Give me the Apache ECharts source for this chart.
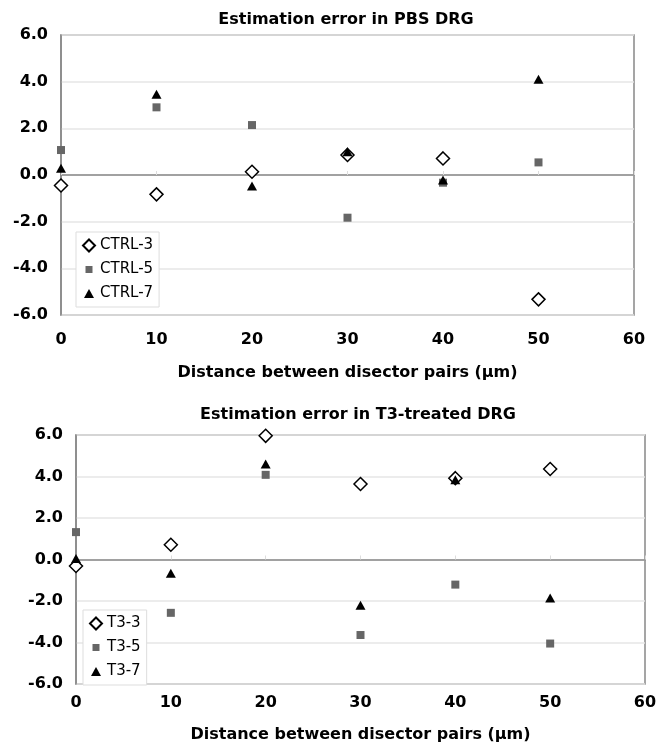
<!DOCTYPE html>
<html>
<head>
<meta charset="utf-8">
<script src="https://cdn.jsdelivr.net/npm/echarts@6/dist/echarts.min.js"></script>
<style>
  html, body { margin: 0; padding: 0; background: #fff; }
  #chart { width: 665px; height: 744px; }
</style>
</head>
<body>
<div id="chart"></div>
<script>
// ---- data ----
var distances = [0, 10, 20, 30, 40, 50];   // µm

var ctrl3 = [-0.45, -0.83, 0.14, 0.86, 0.71, -5.33];
var ctrl5 = [1.07, 2.90, 2.14, -1.83, -0.33, 0.54];
var ctrl7 = [0.29, 3.46, -0.47, 1.00, -0.21, 4.10];

var t3_3 = [-0.31, 0.71, 5.96, 3.64, 3.92, 4.36];
var t3_5 = [1.32, -2.57, 4.08, -3.64, -1.21, -4.05];
var t3_7 = [0.05, -0.66, 4.60, -2.20, 3.84, -1.85];

var topTitle = "Estimation error in PBS DRG";
var bottomTitle = "Estimation error in T3-treated DRG";
var xTitle = "Distance between disector pairs (µm)";

// ---- helpers ----
var FONT = "DejaVu Sans";
// legend icons: moveTo points pad the box so the drawn shape stays small
var ICON_DIAMOND = "path://M0,0M12,12M6,0L12,6L6,12L0,6Z";
var ICON_SQUARE  = "path://M0,0M12,12M2.5,2.5h7v7h-7Z";
var ICON_TRI     = "path://M0,0M12,12M6,1.5L11,10.5H1Z";

function pairs(ys) {
  return distances.map(function (x, i) { return [x, ys[i]]; });
}

function xAxisOf(gridIndex, nameGap, labelMargin) {
  return {
    gridIndex: gridIndex, type: "value", min: 0, max: 60, interval: 10,
    name: xTitle, nameLocation: "middle", nameGap: nameGap,
    nameTextStyle: { fontFamily: FONT, fontWeight: "bold", fontSize: 16, color: "#000" },
    axisLine: { lineStyle: { color: "#888", width: 1.5 } },
    axisTick: { show: true, inside: true, length: 4, lineStyle: { color: "#ddd" } },
    axisLabel: { fontFamily: FONT, fontWeight: "bold", fontSize: 16, color: "#000", margin: labelMargin },
    splitLine: { show: false }
  };
}

function yAxisOf(gridIndex) {
  return {
    gridIndex: gridIndex, type: "value", min: -6, max: 6, interval: 2,
    axisLine: { show: true, lineStyle: { color: "#888", width: 1.5 } },
    axisTick: { show: false },
    axisLabel: {
      fontFamily: FONT, fontWeight: "bold", fontSize: 16, color: "#000", margin: 13,
      formatter: function (v) { return v.toFixed(1); }
    },
    splitLine: { lineStyle: { color: "#e6e6e6", width: 1.5 } }
  };
}

function diamondSeries(name, idx, ys) {
  return {
    name: name, type: "scatter", xAxisIndex: idx, yAxisIndex: idx,
    symbol: "diamond", symbolSize: 13, data: pairs(ys),
    itemStyle: { color: "#fff", borderColor: "#000", borderWidth: 1.5, opacity: 1 }
  };
}
function squareSeries(name, idx, ys) {
  return {
    name: name, type: "scatter", xAxisIndex: idx, yAxisIndex: idx,
    symbol: "rect", symbolSize: 8, data: pairs(ys),
    itemStyle: { color: "#666", opacity: 1 }
  };
}
function triangleSeries(name, idx, ys) {
  return {
    name: name, type: "scatter", xAxisIndex: idx, yAxisIndex: idx,
    symbol: "triangle", symbolSize: [10, 9], data: pairs(ys),
    itemStyle: { color: "#000", opacity: 1 }
  };
}

function legendOf(names, left, top) {
  return {
    data: [
      { name: names[0], icon: ICON_DIAMOND },
      { name: names[1], icon: ICON_SQUARE },
      { name: names[2], icon: ICON_TRI }
    ],
    orient: "vertical", left: left, top: top,
    padding: [6, 6, 6, 6], itemGap: 9, itemWidth: 12, itemHeight: 12, itemTextGap: 4,
    backgroundColor: "#fff", borderColor: "#ddd", borderWidth: 1,
    textStyle: { fontFamily: FONT, fontSize: 15, color: "#000" },
    selectedMode: false
  };
}

var chart = echarts.init(document.getElementById("chart"), null, { renderer: "canvas" });

chart.setOption({
  backgroundColor: "#fff",
  animation: false,
  title: [
    { text: topTitle, left: 341, top: 7, textAlign: "center",
      textStyle: { fontFamily: FONT, fontWeight: "bold", fontSize: 16, color: "#000" } },
    { text: bottomTitle, left: 353, top: 402, textAlign: "center",
      textStyle: { fontFamily: FONT, fontWeight: "bold", fontSize: 16, color: "#000" } }
  ],
  grid: [
    { left: 61, top: 35, width: 573, height: 280, show: true, borderColor: "#888", borderWidth: 1.5, backgroundColor: "#fff" },
    { left: 76, top: 435, width: 569, height: 255, show: true, borderColor: "#888", borderWidth: 1.5, backgroundColor: "#fff" }
  ],
  xAxis: [xAxisOf(0, 50, 17), xAxisOf(1, 43, 11)],
  yAxis: [yAxisOf(0), yAxisOf(1)],
  legend: [
    legendOf(["CTRL-3", "CTRL-5", "CTRL-7"], 76, 232),
    legendOf(["T3-3", "T3-5", "T3-7"], 83, 610)
  ],
  series: [
    diamondSeries("CTRL-3", 0, ctrl3),
    squareSeries("CTRL-5", 0, ctrl5),
    triangleSeries("CTRL-7", 0, ctrl7),
    diamondSeries("T3-3", 1, t3_3),
    squareSeries("T3-5", 1, t3_5),
    triangleSeries("T3-7", 1, t3_7)
  ]
});
</script>
</body>
</html>
